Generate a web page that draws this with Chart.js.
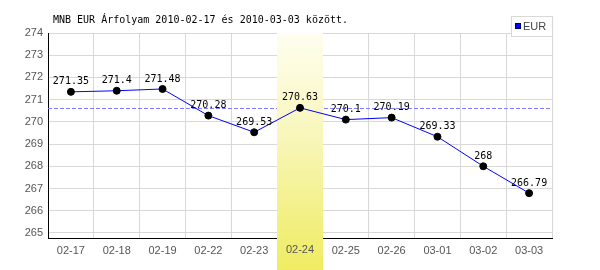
<!DOCTYPE html>
<html>
<head>
<meta charset="utf-8">
<script src="https://cdn.jsdelivr.net/npm/chart.js@4/dist/chart.umd.min.js"></script>
<style>
html,body{margin:0;padding:0;background:#fff;}
#c{display:block;}
</style>
</head>
<body>
<canvas id="c" width="600" height="270"></canvas>
<script>
const categories = ['02-17','02-18','02-19','02-22','02-23','02-24','02-25','02-26','03-01','03-02','03-03'];
const eurValues = [271.35, 271.4, 271.48, 270.28, 269.53, 270.63, 270.1, 270.19, 269.33, 268, 266.79];
const yTickValues = [265, 266, 267, 268, 269, 270, 271, 272, 273, 274];
const titleText = 'MNB EUR Árfolyam 2010-02-17 és 2010-03-03 között.';
const seriesName = 'EUR';
const highlightIndex = 5;
const referenceValue = 270.63;
const yMin = 264.77;
const yMax = 274;

const tickFont = '11px "Liberation Sans"';
const tickColor = '#555';

const overlayPlugin = {
  id: 'overlay',
  beforeDatasetsDraw(chart) {
    const ctx = chart.ctx;
    const area = chart.chartArea;
    const x = chart.scales.x, y = chart.scales.y;
    // dashed reference line
    const ry = Math.round(y.getPixelForValue(referenceValue)) + 0.5;
    ctx.save();
    ctx.strokeStyle = '#8080ff';
    ctx.lineWidth = 1;
    ctx.setLineDash([4, 2]);
    ctx.beginPath();
    ctx.moveTo(area.left, ry);
    ctx.lineTo(area.right, ry);
    ctx.stroke();
    ctx.restore();
    // highlighted column
    const cw = (area.right - area.left) / categories.length;
    const cx = x.getPixelForValue(highlightIndex);
    const x0 = Math.round(cx - cw / 2), x1 = Math.round(cx + cw / 2);
    const g = ctx.createLinearGradient(0, area.top, 0, chart.height);
    g.addColorStop(0, '#fffef0');
    g.addColorStop(0.45, '#f8f6b8');
    g.addColorStop(1, '#efec62');
    ctx.save();
    ctx.fillStyle = g;
    ctx.fillRect(x0, area.top, x1 - x0, chart.height - area.top);
    // redraw the category label on top of the highlight
    ctx.font = tickFont;
    ctx.fillStyle = tickColor;
    ctx.textAlign = 'center';
    ctx.textBaseline = 'top';
    const lbl = x._labelItems ? x._labelItems[highlightIndex] : null;
    const ty = lbl ? lbl.options.translation[1] : area.bottom + 6;
    ctx.fillText(categories[highlightIndex], cx, ty);
    ctx.restore();
  },
  afterDatasetsDraw(chart) {
    const ctx = chart.ctx;
    const meta = chart.getDatasetMeta(0);
    ctx.save();
    ctx.font = '10px "DejaVu Sans Mono"';
    ctx.fillStyle = '#000';
    ctx.textAlign = 'center';
    ctx.textBaseline = 'middle';
    meta.data.forEach((pt, i) => {
      ctx.fillText(String(eurValues[i]), pt.x, pt.y - 10);
    });
    ctx.restore();
  },
  afterDraw(chart) {
    const ctx = chart.ctx;
    ctx.save();
    // title
    ctx.font = '10px "DejaVu Sans Mono"';
    ctx.fillStyle = '#000';
    ctx.textAlign = 'left';
    ctx.textBaseline = 'middle';
    ctx.fillText(titleText, 53, 20);
    // legend
    ctx.fillStyle = '#fff';
    ctx.fillRect(511, 16, 42, 20);
    ctx.strokeStyle = '#d8d8d8';
    ctx.lineWidth = 1;
    ctx.strokeRect(511.5, 16.5, 41, 20);
    ctx.fillStyle = '#0000ff';
    ctx.fillRect(515, 23, 6, 6);
    ctx.strokeStyle = '#000066';
    ctx.strokeRect(515.5, 23.5, 5, 5);
    ctx.font = tickFont;
    ctx.fillStyle = '#444';
    ctx.fillText(seriesName, 523, 26.5);
    ctx.restore();
  }
};

new Chart(document.getElementById('c'), {
  type: 'line',
  data: {
    labels: categories,
    datasets: [{
      label: seriesName,
      data: eurValues,
      borderColor: '#0000ff',
      borderWidth: 1,
      backgroundColor: '#0000ff',
      pointRadius: 3.5,
      pointBackgroundColor: '#000',
      pointBorderColor: '#000',
      pointBorderWidth: 1,
      tension: 0,
      fill: false
    }]
  },
  options: {
    responsive: false,
    animation: false,
    devicePixelRatio: 1,
    layout: { padding: { top: 33, right: 48, left: 0, bottom: 0 } },
    plugins: { legend: { display: false }, title: { display: false }, tooltip: { enabled: false } },
    scales: {
      x: {
        type: 'category',
        offset: true,
        grid: { color: '#d8d8d8', lineWidth: 1, drawTicks: false, offset: true },
        border: { color: '#000', width: 1 },
        ticks: { color: tickColor, font: { family: 'Liberation Sans', size: 11 }, padding: 6, maxRotation: 0, autoSkip: false },
        afterFit(s) { s.height = 32; }
      },
      y: {
        min: yMin,
        max: yMax,
        grid: { color: '#d8d8d8', lineWidth: 1, drawTicks: false },
        border: { color: '#000', width: 1 },
        ticks: { color: tickColor, font: { family: 'Liberation Sans', size: 11 }, padding: 5 },
        afterBuildTicks(s) { s.ticks = yTickValues.map(v => ({ value: v })); },
        afterFit(s) { s.width = 48; }
      }
    }
  },
  plugins: [overlayPlugin]
});
</script>
</body>
</html>
